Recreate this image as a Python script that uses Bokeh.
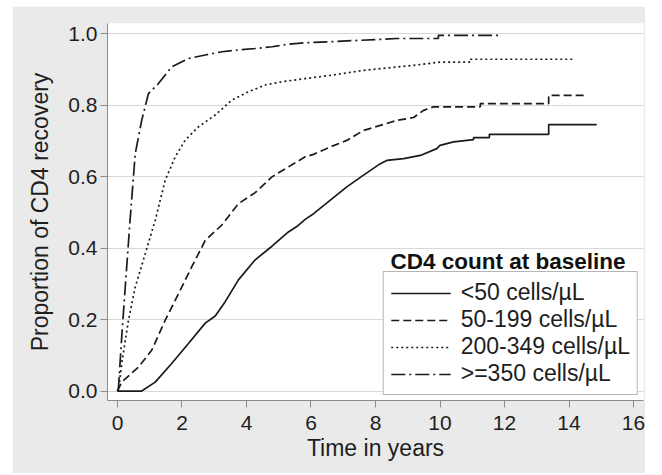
from bokeh.plotting import figure
from bokeh.models import FixedTicker, Legend, LegendItem, Label
from bokeh.embed import file_html
from bokeh.resources import INLINE

# ---- data ----
x_ticks = [0, 2, 4, 6, 8, 10, 12, 14, 16]
x_tick_labels = ["0", "2", "4", "6", "8", "10", "12", "14", "16"]
y_ticks = [0.0, 0.2, 0.4, 0.6, 0.8, 1.0]
y_tick_labels = ["0.0", "0.2", "0.4", "0.6", "0.8", "1.0"]

series_names = ["<50 cells/\u00b5L", "50-199 cells/\u00b5L", "200-349 cells/\u00b5L", ">=350 cells/\u00b5L"]
legend_title = "CD4 count at baseline"

t_lt50 = [0, 0.75, 1.17, 1.68, 2.2, 2.72, 3.03, 3.34, 3.75, 4.27, 4.79, 5.04, 5.3, 5.56, 5.82, 6.08,
          6.6, 7.11, 7.63, 8.15, 8.35, 8.87, 9.39, 9.9, 10.0, 10.42, 11.04, 11.04, 11.53, 11.53,
          13.37, 13.37, 14.86]
v_lt50 = [0, 0.0, 0.025, 0.077, 0.133, 0.19, 0.21, 0.25, 0.311, 0.367, 0.405, 0.425, 0.445, 0.46,
          0.48, 0.496, 0.534, 0.571, 0.604, 0.636, 0.645, 0.650, 0.659, 0.678, 0.687, 0.697, 0.703,
          0.709, 0.709, 0.718, 0.718, 0.745, 0.745]

t_50_199 = [0, 0.13, 0.65, 1.06, 1.48, 1.89, 2.3, 2.72, 3.24, 3.75, 4.27, 4.79, 5.3, 5.82, 6.08,
            6.6, 7.11, 7.63, 8.15, 8.66, 9.18, 9.49, 9.8, 11.25, 11.25, 13.37, 13.37, 14.5]
v_50_199 = [0, 0.025, 0.067, 0.114, 0.198, 0.272, 0.347, 0.421, 0.465, 0.524, 0.555, 0.599, 0.627,
            0.655, 0.662, 0.683, 0.701, 0.729, 0.743, 0.757, 0.765, 0.785, 0.795, 0.795, 0.804, 0.804,
            0.827, 0.827]

t_200_349 = [0, 0.03, 0.13, 0.34, 0.55, 0.86, 1.17, 1.48, 1.79, 2.1, 2.51, 3.03, 3.55, 4.06, 4.58,
             5.1, 5.82, 6.6, 7.63, 9.18, 10.0, 10.94, 10.94, 14.14]
v_200_349 = [0, 0.0, 0.077, 0.198, 0.291, 0.384, 0.478, 0.590, 0.655, 0.702, 0.739, 0.772, 0.814,
             0.837, 0.856, 0.865, 0.874, 0.883, 0.897, 0.911, 0.920, 0.920, 0.928, 0.928]

t_ge350 = [0, 0.03, 0.13, 0.24, 0.39, 0.55, 0.75, 0.96, 1.27, 1.68, 2.2, 2.72, 3.24, 3.75, 4.27,
           4.79, 5.3, 5.82, 6.6, 8.67, 9.95, 9.95, 11.81]
v_ge350 = [0, 0.01, 0.15, 0.29, 0.478, 0.664, 0.757, 0.832, 0.86, 0.907, 0.93, 0.94, 0.949, 0.954,
           0.958, 0.963, 0.97, 0.974, 0.977, 0.986, 0.986, 0.995, 0.995]

FONT = "Liberation Sans"
TEXT = "#1e1e1e"
BG = "#EAEAEA"

p = figure(width=633, height=467, output_backend="svg", toolbar_location=None,
           x_range=(-0.31, 16.31), y_range=(-0.0265, 1.028),
           min_border_left=95, min_border_top=17, min_border_right=2, min_border_bottom=73,
           background_fill_color="white", border_fill_color=BG,
           margin=(6, 17, 2, 12))
p.outline_line_color = None

# axes
for ax in (p.xaxis[0], p.yaxis[0]):
    ax.axis_line_color = "#8a8a8a"
    ax.major_tick_line_color = "#8a8a8a"
    ax.major_tick_out = 7
    ax.major_tick_in = 0
    ax.minor_tick_line_color = None
    ax.major_label_text_font = FONT
    ax.major_label_text_font_size = "21px"
    ax.major_label_text_color = TEXT
    ax.axis_label_text_font = FONT
    ax.axis_label_text_font_size = "23px"
    ax.axis_label_text_font_style = "normal"
    ax.axis_label_text_color = TEXT

p.xaxis.ticker = FixedTicker(ticks=x_ticks)
p.xaxis.major_label_overrides = {t: s for t, s in zip(x_ticks, x_tick_labels)}
p.yaxis.ticker = FixedTicker(ticks=y_ticks)
p.yaxis.major_label_overrides = {t: s for t, s in zip(y_ticks, y_tick_labels)}
p.xaxis.axis_label = "Time in years"
p.yaxis.axis_label = "Proportion of CD4 recovery"
p.xaxis.major_label_standoff = 8
p.xaxis.axis_label_standoff = 2
p.yaxis.major_label_standoff = 3
p.yaxis.axis_label_standoff = 12
p.yaxis.major_label_orientation = "horizontal"

p.xgrid.visible = False
p.ygrid.grid_line_color = "#d8d8d8"
p.ygrid.grid_line_width = 1

LC = "#1a1a1a"
LW = 1.7
r1 = p.line(t_lt50, v_lt50, line_color=LC, line_width=LW)
r2 = p.line(t_50_199, v_50_199, line_color=LC, line_width=LW, line_dash="8 4")
r3 = p.line(t_200_349, v_200_349, line_color=LC, line_width=LW, line_dash="2 3")
r4 = p.line(t_ge350, v_ge350, line_color=LC, line_width=LW, line_dash="14 4 2 4")

legend = Legend(items=[LegendItem(label=n, renderers=[r]) for n, r in zip(series_names, [r1, r2, r3, r4])],
                location="bottom_right", margin=5, padding=7, spacing=0,
                label_height=22, glyph_height=22, glyph_width=60, label_standoff=10,
                label_text_font=FONT, label_text_font_size="23px", label_text_color=TEXT,
                border_line_color="#6e6e6e", border_line_width=1,
                background_fill_color="white", background_fill_alpha=1)
p.add_layout(legend, "center")

p.add_layout(Label(x=12.11, y=0.362, text=legend_title, text_font=FONT, text_font_size="22.5px",
                   text_font_style="bold", text_color="#111111", text_align="center",
                   text_baseline="alphabetic"))

open("out.html", "w").write(file_html(p, INLINE))
